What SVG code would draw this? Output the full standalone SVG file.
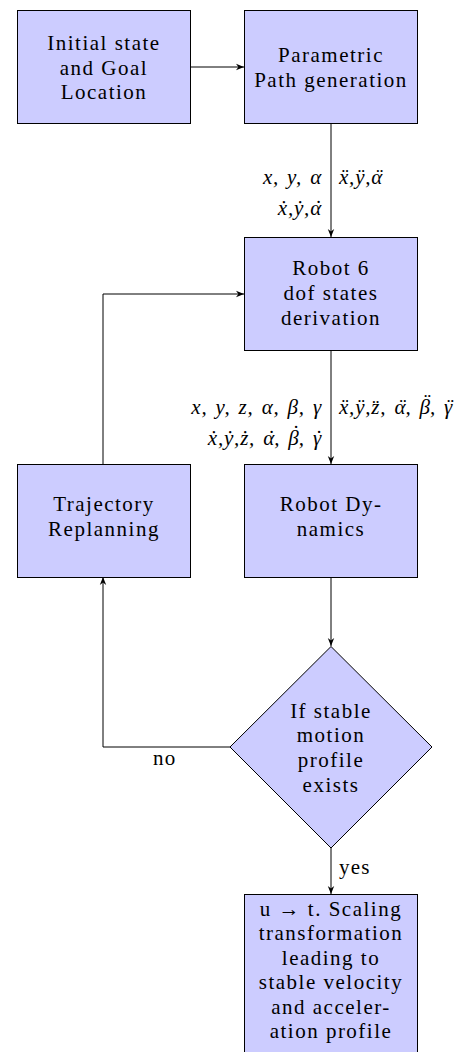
<svg xmlns="http://www.w3.org/2000/svg" width="462" height="1052" viewBox="0 0 462 1052">
  <style>
    .box { fill: #ccccff; stroke: #000; stroke-width: 1; }
    .lbl { font-family: "Liberation Serif", "Times New Roman", serif; font-size: 21px; letter-spacing: 1.5px; fill: #000; text-anchor: middle; }
    .edge { font-family: "Liberation Serif", "Times New Roman", serif; font-size: 21px; letter-spacing: 1.2px; fill: #000; }
    .math { font-family: "Liberation Serif", "Times New Roman", serif; font-size: 21px; font-style: italic; letter-spacing: 0.8px; word-spacing: 2px; fill: #000; }
    .end { text-anchor: end; }
    .wire { fill: none; stroke: #000; stroke-width: 1; marker-end: url(#arrow); }
  </style>
  <defs>
    <marker id="arrow" viewBox="0 0 10 10" refX="10" refY="5" markerWidth="8" markerHeight="8" markerUnits="userSpaceOnUse" orient="auto">
      <path d="M0,1 L10,5 L0,9 L3,5 Z" fill="#000"/>
    </marker>
  </defs>
  <rect width="462" height="1052" fill="#fff"/>

  <g id="connectors">
    <path class="wire" d="M190.5,67 H244"/>
    <path class="wire" d="M331,123 V237"/>
    <path class="wire" d="M331,350 V464"/>
    <path class="wire" d="M331,577 V646"/>
    <path class="wire" d="M230,747 H103 V577"/>
    <path class="wire" d="M103,464 V294 H244"/>
    <path class="wire" d="M331,848 V894"/>

    <!-- path generation -> state derivation: position, velocity, acceleration -->
    <text class="math end" x="322" y="184">x, y, α</text>
    <text class="math end" x="322" y="215">ẋ,ẏ,α<tspan dx="-8.3">˙</tspan><tspan dx="-0.3"> </tspan></text>
    <text class="math" x="339" y="184">ẍ,ÿ,α<tspan dx="-8.3">¨</tspan></text>

    <!-- state derivation -> dynamics: 6 dof states -->
    <text class="math end" x="322" y="414">x, y, z, α, β, γ</text>
    <text class="math end" x="322" y="445">ẋ,ẏ,ż, α<tspan dx="-8.3">˙</tspan><tspan dx="-0.3">, β</tspan><tspan dx="-8.3" dy="-5">˙</tspan><tspan dx="-0.3" dy="5">, γ</tspan><tspan dx="-7.8">˙</tspan></text>
    <text class="math" x="339" y="414">ẍ,ÿ,z̈, α<tspan dx="-8.3">¨</tspan><tspan dx="-0.3">, β</tspan><tspan dx="-8.3" dy="-5">¨</tspan><tspan dx="-0.3" dy="5">, γ</tspan><tspan dx="-7.8">¨</tspan></text>

    <text class="edge" x="153" y="765">no</text>
    <text class="edge" x="339" y="874">yes</text>
  </g>

  <g id="initial-state">
    <rect class="box" x="17.5" y="10.5" width="173" height="113"/>
    <text class="lbl" x="104" y="50">Initial state</text>
    <text class="lbl" x="104" y="74.5">and Goal</text>
    <text class="lbl" x="104" y="99">Location</text>
  </g>

  <g id="path-generation">
    <rect class="box" x="244.5" y="10.5" width="173" height="113"/>
    <text class="lbl" x="331" y="62">Parametric</text>
    <text class="lbl" x="331" y="86.5">Path generation</text>
  </g>

  <g id="dof-states">
    <rect class="box" x="244.5" y="237.5" width="173" height="113"/>
    <text class="lbl" x="331" y="275">Robot 6</text>
    <text class="lbl" x="331" y="300">dof states</text>
    <text class="lbl" x="331" y="325">derivation</text>
  </g>

  <g id="replanning">
    <rect class="box" x="17.5" y="464.5" width="173" height="113"/>
    <text class="lbl" x="104" y="511">Trajectory</text>
    <text class="lbl" x="104" y="536">Replanning</text>
  </g>

  <g id="dynamics">
    <rect class="box" x="244.5" y="464.5" width="173" height="113"/>
    <text class="lbl" x="331" y="511">Robot Dy-</text>
    <text class="lbl" x="331" y="536">namics</text>
  </g>

  <g id="stability-check">
    <polygon class="box" points="331,646.5 432,747 331,848 230,747"/>
    <text class="lbl" x="331" y="718">If stable</text>
    <text class="lbl" x="331" y="742">motion</text>
    <text class="lbl" x="331" y="767">profile</text>
    <text class="lbl" x="331" y="792">exists</text>
  </g>

  <g id="scaling">
    <rect class="box" x="244.5" y="894.5" width="173" height="170"/>
    <text class="lbl" x="331" y="916">u → t. Scaling</text>
    <text class="lbl" x="331" y="940">transformation</text>
    <text class="lbl" x="331" y="965">leading to</text>
    <text class="lbl" x="331" y="989">stable velocity</text>
    <text class="lbl" x="331" y="1014">and acceler-</text>
    <text class="lbl" x="331" y="1038">ation profile</text>
  </g>
</svg>
